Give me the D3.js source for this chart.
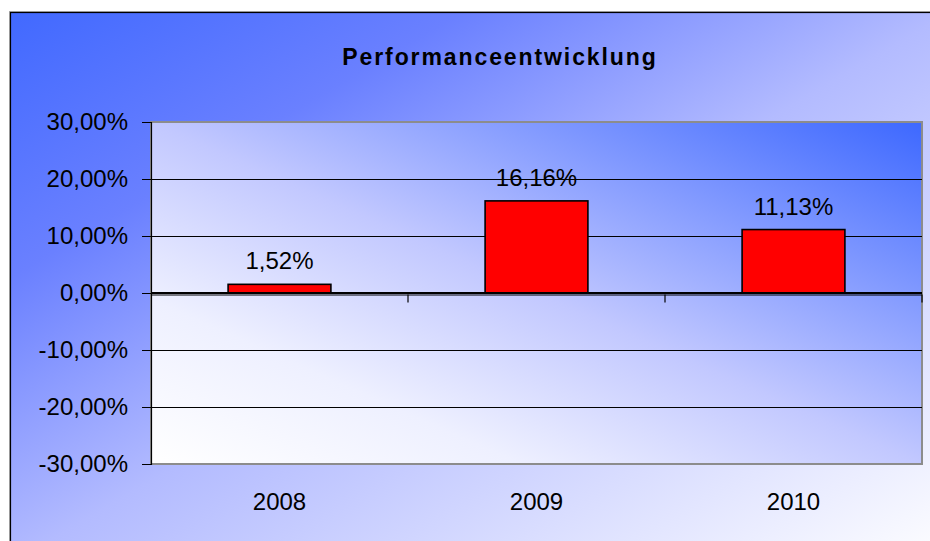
<!DOCTYPE html>
<html>
<head>
<meta charset="utf-8">
<script src="https://cdn.jsdelivr.net/npm/d3@7"></script>
<style>
  html, body { margin: 0; padding: 0; background: #ffffff; }
  svg { display: block; font-family: "Liberation Sans", Arial, sans-serif; }
</style>
</head>
<body>
<svg id="chart" width="930" height="541"></svg>
<script>
const title = "Performanceentwicklung";
const categories = ["2008", "2009", "2010"];
const values = [1.52, 16.16, 11.13];
const yTicks = [-30, -20, -10, 0, 10, 20, 30];

const W = 930, H = 541;
const plot = { left: 151, top: 122, right: 922, bottom: 464 };

const locale = d3.formatLocale({ decimal: ",", thousands: ".", grouping: [3], currency: ["", "€"], minus: "-" });
const pct = v => locale.format(".2f")(v) + "%";

const svg = d3.select("#chart");
const defs = svg.append("defs");

const outerGrad = defs.append("linearGradient")
  .attr("id", "outerGrad").attr("x1", 0).attr("y1", 0).attr("x2", 1).attr("y2", 1);
[[0, "#4169ff"], [0.24, "#6a80ff"], [0.5, "#b3bbff"], [1, "#ffffff"]].forEach(([o, c]) =>
  outerGrad.append("stop").attr("offset", o).attr("stop-color", c));

const plotGrad = defs.append("linearGradient")
  .attr("id", "plotGrad").attr("x1", 0).attr("y1", 1).attr("x2", 1).attr("y2", 0);
[[0, "#ffffff"], [0.24, "#eef0ff"], [0.5, "#c2c8ff"], [1, "#3d68ff"]].forEach(([o, c]) =>
  plotGrad.append("stop").attr("offset", o).attr("stop-color", c));

// outer chart area
svg.append("rect").attr("x", 9.5).attr("y", 11.5).attr("width", W + 10).attr("height", H + 10)
  .attr("fill", "none").attr("stroke", "#aaaaaa").attr("stroke-width", 1);
svg.append("rect").attr("x", 10.5).attr("y", 12.5).attr("width", W + 10).attr("height", H + 10)
  .attr("fill", "url(#outerGrad)").attr("stroke", "#000").attr("stroke-width", 1.2);

// title
svg.append("text")
  .attr("x", 500).attr("y", 65)
  .attr("text-anchor", "middle")
  .attr("font-size", 23).attr("font-weight", "bold")
  .attr("letter-spacing", "1.9px")
  .attr("fill", "#000")
  .text(title);

// scales
const x = d3.scaleBand().domain(categories).range([plot.left, plot.right]).paddingInner(0).paddingOuter(0);
const y = d3.scaleLinear().domain([-30, 30]).range([plot.bottom, plot.top]);

// plot area
svg.append("rect")
  .attr("x", plot.left).attr("y", plot.top)
  .attr("width", plot.right - plot.left).attr("height", plot.bottom - plot.top)
  .attr("fill", "url(#plotGrad)").attr("stroke", "#8c8c8c").attr("stroke-width", 2);

// gridlines
svg.append("g").selectAll("line")
  .data(yTicks.filter(d => d !== 30 && d !== -30))
  .join("line")
  .attr("x1", plot.left).attr("x2", plot.right)
  .attr("y1", d => Math.round(y(d)) + 0.5).attr("y2", d => Math.round(y(d)) + 0.5)
  .attr("stroke", "#000").attr("stroke-width", 1);

// y axis
const yAxis = d3.axisLeft(y).tickValues(yTicks).tickSize(9).tickPadding(14).tickFormat(pct);
const gy = svg.append("g").attr("transform", `translate(${plot.left},0)`).call(yAxis);
gy.select(".domain").attr("stroke", "#000").attr("stroke-width", 1.2);
gy.selectAll(".tick line").attr("stroke", "#000");
gy.selectAll(".tick text").attr("font-size", 24).attr("fill", "#000")
  .attr("font-family", "'Liberation Sans', Arial, sans-serif");

// bars
const barW = x.bandwidth() * 0.4;
svg.append("g").selectAll("rect")
  .data(values)
  .join("rect")
  .attr("x", (d, i) => x(categories[i]) + (x.bandwidth() - barW) / 2)
  .attr("y", d => y(Math.max(0, d)))
  .attr("width", barW)
  .attr("height", d => Math.abs(y(d) - y(0)))
  .attr("fill", "#ff0000").attr("stroke", "#000").attr("stroke-width", 1.6);

// category axis (at zero)
const gx = svg.append("g").attr("transform", `translate(0,${Math.round(y(0)) + 1.5})`);
gx.append("line").attr("x1", plot.left).attr("x2", plot.right).attr("y1", 0.5).attr("y2", 0.5)
  .attr("stroke", "#000").attr("stroke-width", 1.2);
gx.selectAll(".sep")
  .data(categories)
  .join("line")
  .attr("class", "sep")
  .attr("x1", d => x(d) + x.bandwidth()).attr("x2", d => x(d) + x.bandwidth())
  .attr("y1", 0).attr("y2", 8)
  .attr("stroke", "#000").attr("stroke-width", 1.2);
// zero gridline
svg.append("line")
  .attr("x1", plot.left).attr("x2", plot.right)
  .attr("y1", Math.round(y(0)) - 0.5).attr("y2", Math.round(y(0)) - 0.5)
  .attr("stroke", "#000").attr("stroke-width", 1);

// category labels
svg.append("g").selectAll("text")
  .data(categories)
  .join("text")
  .attr("x", d => x(d) + x.bandwidth() / 2)
  .attr("y", 510)
  .attr("text-anchor", "middle")
  .attr("font-size", 24).attr("fill", "#000")
  .text(d => d);

// value labels
svg.append("g").selectAll("text")
  .data(values)
  .join("text")
  .attr("x", (d, i) => x(categories[i]) + x.bandwidth() / 2)
  .attr("y", d => y(Math.max(0, d)) - 15)
  .attr("text-anchor", "middle")
  .attr("font-size", 24).attr("fill", "#000")
  .text(pct);
</script>
</body>
</html>
